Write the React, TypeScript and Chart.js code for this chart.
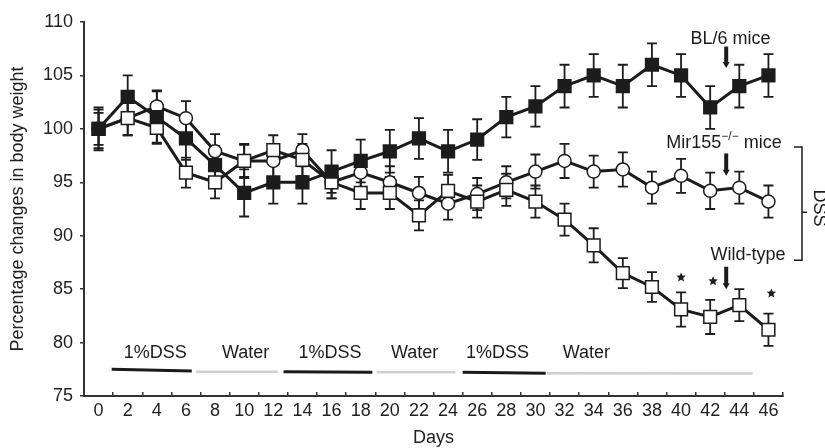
import React, { useEffect, useRef } from "react";
import { Chart, registerables } from "chart.js";

Chart.register(...registerables);

const days = ["0","2","4","6","8","10","12","14","16","18","20","22","24","26","28","30","32","34","36","38","40","42","44","46"];

const bl6 = [100, 103, 101.1, 99.1, 96.6, 94.0, 95.0, 95.0, 96.0, 97.0, 97.9, 99.1, 97.9, 99.0, 101.1, 102.1, 104.0, 105.0, 104.0, 106.0, 105.0, 102.0, 104.0, 105.0];
const bl6Err = [2, 2, 2.4, 2, 1.8, 2.2, 2, 2, 2, 2, 2, 1.9, 2, 1.9, 1.9, 1.9, 2, 2, 2, 2, 2, 2, 2, 2];

const mir155 = [100, 101, 102.1, 101, 97.9, 97, 97, 98, 95, 95.9, 95, 94, 93, 93.9, 95, 96, 97, 96, 96.2, 94.5, 95.6, 94.2, 94.5, 93.2];
const mir155Err = [1.8, 1.6, 1.5, 1.6, 1.6, 1.6, 1.5, 1.5, 1.5, 1.5, 1.5, 1.5, 1.5, 1.5, 1.5, 1.6, 1.6, 1.5, 1.6, 1.5, 1.6, 1.7, 1.5, 1.5];

const wildType = [100, 101, 100.1, 95.9, 95, 97, 98, 97.1, 95, 94, 94, 91.9, 94.2, 93.2, 94.3, 93.2, 91.5, 89.1, 86.5, 85.2, 83.1, 82.4, 83.5, 81.2];
const wildTypeErr = [1.5, 1.6, 1.5, 1.4, 1.5, 1.5, 1.4, 1.5, 1.5, 1.5, 1.5, 1.4, 1.5, 1.5, 1.5, 1.5, 1.5, 1.6, 1.4, 1.4, 1.6, 1.6, 1.5, 1.5];

const yTicks = [75, 80, 85, 90, 95, 100, 105, 110];

// treatment periods: [startDay, endDay, startValue, endValue]
const dssPeriods = [
  [0.9, 6.4, 77.5, 77.34],
  [12.7, 18.8, 77.28, 77.22],
  [25.0, 30.7, 77.22, 77.12],
];
const waterPeriods = [
  [6.7, 12.3, 77.28, 77.28],
  [19.1, 24.5, 77.22, 77.22],
  [30.8, 44.9, 77.12, 77.1],
];
const periodLabels = [
  { text: "1%DSS", day: 3.9, value: 79.0 },
  { text: "Water", day: 10.1, value: 79.0 },
  { text: "1%DSS", day: 15.9, value: 79.0 },
  { text: "Water", day: 21.7, value: 79.0 },
  { text: "1%DSS", day: 27.4, value: 79.0 },
  { text: "Water", day: 33.5, value: 79.0 },
];

const arrows = [
  { day: 43.1, from: 107.7, to: 105.7 },
  { day: 43.1, from: 97.7, to: 95.6 },
  { day: 43.1, from: 87.1, to: 85.0 },
];
const stars = [
  { day: 40.0, value: 86.1 },
  { day: 42.2, value: 85.75 },
  { day: 46.2, value: 84.6 },
];

const FONT = '"Liberation Sans", Arial, sans-serif';
const INK = "#1c1c1c";

function segDatasets(periods: number[][], color: string, width: number) {
  return periods.map((p) => ({
    type: "line" as const,
    xAxisID: "xd",
    data: [{ x: p[0], y: p[2] }, { x: p[1], y: p[3] }],
    borderColor: color,
    borderWidth: width,
    pointRadius: 0,
    fill: false,
    errors: null,
  }));
}

const errorBarPlugin = {
  id: "errorBars",
  beforeDatasetsDraw(chart: any) {
    const ctx = chart.ctx;
    const y = chart.scales.y;
    ctx.save();
    ctx.strokeStyle = INK;
    ctx.lineWidth = 1.8;
    chart.data.datasets.forEach((ds: any, i: number) => {
      if (!ds.errors) return;
      const meta = chart.getDatasetMeta(i);
      meta.data.forEach((pt: any, j: number) => {
        const v = ds.data[j];
        const e = ds.errors[j];
        const x = pt.x;
        const yt = y.getPixelForValue(v + e);
        const yb = y.getPixelForValue(v - e);
        ctx.beginPath();
        ctx.moveTo(x, yt);
        ctx.lineTo(x, yb);
        ctx.moveTo(x - 5, yt);
        ctx.lineTo(x + 5, yt);
        ctx.moveTo(x - 5, yb);
        ctx.lineTo(x + 5, yb);
        ctx.stroke();
      });
    });
    ctx.restore();
  },
};

function drawStar(ctx: CanvasRenderingContext2D, cx: number, cy: number, r: number) {
  ctx.beginPath();
  for (let k = 0; k < 10; k++) {
    const rad = k % 2 === 0 ? r : r * 0.45;
    const a = -Math.PI / 2 + (k * Math.PI) / 5;
    const px = cx + rad * Math.cos(a);
    const py = cy + rad * Math.sin(a);
    if (k === 0) ctx.moveTo(px, py);
    else ctx.lineTo(px, py);
  }
  ctx.closePath();
  ctx.fill();
}

const annotationPlugin = {
  id: "annotations",
  afterDraw(chart: any) {
    const ctx = chart.ctx;
    const xd = chart.scales.xd;
    const y = chart.scales.y;
    const area = chart.chartArea;
    ctx.save();
    ctx.fillStyle = INK;
    ctx.strokeStyle = INK;
    ctx.textBaseline = "middle";
    ctx.font = `18px ${FONT}`;

    // period labels
    ctx.textAlign = "center";
    periodLabels.forEach((l) => {
      ctx.fillText(l.text, xd.getPixelForValue(l.day), y.getPixelForValue(l.value));
    });

    // group labels
    ctx.fillText("BL/6 mice", xd.getPixelForValue(43.4), y.getPixelForValue(108.4));
    ctx.fillText("Wild-type", xd.getPixelForValue(44.6), y.getPixelForValue(88.2));

    // Mir155 label with superscript
    const mirY = y.getPixelForValue(98.7);
    ctx.font = `18px ${FONT}`;
    const w1 = ctx.measureText("Mir155").width;
    const w3 = ctx.measureText(" mice").width;
    ctx.font = `12px ${FONT}`;
    const w2 = ctx.measureText("\u2212/\u2212").width;
    const total = w1 + w2 + w3;
    let sx = xd.getPixelForValue(42.95) - total / 2;
    ctx.textAlign = "left";
    ctx.font = `18px ${FONT}`;
    ctx.fillText("Mir155", sx, mirY);
    ctx.font = `12px ${FONT}`;
    ctx.fillText("\u2212/\u2212", sx + w1, mirY - 6);
    ctx.font = `18px ${FONT}`;
    ctx.fillText(" mice", sx + w1 + w2, mirY);

    // arrows
    arrows.forEach((a) => {
      const ax = xd.getPixelForValue(a.day);
      const y1 = y.getPixelForValue(a.from);
      const y2 = y.getPixelForValue(a.to);
      ctx.lineWidth = 4;
      ctx.beginPath();
      ctx.moveTo(ax, y1);
      ctx.lineTo(ax, y2 - 5);
      ctx.stroke();
      ctx.beginPath();
      ctx.moveTo(ax - 3.5, y2 - 6);
      ctx.lineTo(ax + 3.5, y2 - 6);
      ctx.lineTo(ax, y2);
      ctx.closePath();
      ctx.fill();
    });

    // stars
    stars.forEach((s) => drawStar(ctx, xd.getPixelForValue(s.day), y.getPixelForValue(s.value), 5));

    // DSS bracket
    const bt = y.getPixelForValue(98.3);
    const bb = y.getPixelForValue(87.7);
    const bm = y.getPixelForValue(92.2);
    const bx0 = area.right + 11;
    const bx1 = area.right + 19;
    ctx.lineWidth = 1.5;
    ctx.beginPath();
    ctx.moveTo(bx0, bt);
    ctx.lineTo(bx1, bt);
    ctx.lineTo(bx1, bb);
    ctx.lineTo(bx0, bb);
    ctx.moveTo(bx1, bm);
    ctx.lineTo(bx1 + 5, bm);
    ctx.stroke();

    ctx.save();
    ctx.translate(area.right + 36, y.getPixelForValue(92.6));
    ctx.rotate(Math.PI / 2);
    ctx.textAlign = "center";
    ctx.font = `18px ${FONT}`;
    ctx.fillText("DSS", 0, 0);
    ctx.restore();

    ctx.restore();
  },
};

export default function App() {
  const ref = useRef<HTMLCanvasElement>(null);

  useEffect(() => {
    document.body.style.margin = "0";
    if (!ref.current) return;
    const chart = new Chart(ref.current, {
      type: "line",
      data: {
        labels: days,
        datasets: [
          {
            label: "BL/6 mice",
            data: bl6,
            errors: bl6Err,
            xAxisID: "x",
            borderColor: INK,
            borderWidth: 3,
            pointStyle: "rect",
            pointRadius: 9,
            pointBackgroundColor: INK,
            pointBorderColor: INK,
            pointBorderWidth: 1.5,
            fill: false,
          },
          {
            label: "Wild-type",
            data: wildType,
            errors: wildTypeErr,
            xAxisID: "x",
            borderColor: INK,
            borderWidth: 3,
            pointStyle: "rect",
            pointRadius: 9,
            pointBackgroundColor: "#ffffff",
            pointBorderColor: INK,
            pointBorderWidth: 1.5,
            fill: false,
          },
          {
            label: "Mir155-/- mice",
            data: mir155,
            errors: mir155Err,
            xAxisID: "x",
            borderColor: INK,
            borderWidth: 3,
            pointStyle: "circle",
            pointRadius: 6.5,
            pointBackgroundColor: "#ffffff",
            pointBorderColor: INK,
            pointBorderWidth: 1.5,
            fill: false,
          },
          ...segDatasets(dssPeriods, "#1a1a1a", 3),
          ...segDatasets(waterPeriods, "#cfcfcf", 2.5),
        ] as any,
      },
      options: {
        animation: false,
        responsive: false,
        devicePixelRatio: 1,
        layout: { padding: { top: 22, right: 42, left: 0, bottom: 0 } },
        plugins: { legend: { display: false }, tooltip: { enabled: false } },
        scales: {
          x: {
            type: "category",
            offset: true,
            grid: {
              offset: true,
              drawOnChartArea: false,
              drawTicks: true,
              tickLength: -4,
              color: "#333",
              lineWidth: 1.5,
            },
            border: { display: true, color: "#333", width: 2 },
            ticks: {
              color: "#222",
              font: { family: FONT, size: 18 },
              padding: 8,
              maxRotation: 0,
              autoSkip: false,
            },
            title: {
              display: true,
              text: "Days",
              color: "#222",
              font: { family: FONT, size: 18, lineHeight: 1.1 },
              padding: { top: 0, bottom: 0 },
            },
            afterFit(scale: any) {
              scale.height = 52;
            },
          },
          xd: {
            type: "linear",
            display: false,
            min: -1,
            max: 47,
          },
          y: {
            type: "linear",
            min: 75,
            max: 110,
            afterBuildTicks(scale: any) {
              scale.ticks = yTicks.map((v) => ({ value: v }));
            },
            grid: {
              drawOnChartArea: false,
              drawTicks: true,
              tickLength: 4,
              color: "#333",
              lineWidth: 1.5,
            },
            border: { display: true, color: "#333", width: 2 },
            ticks: {
              color: "#222",
              font: { family: FONT, size: 18 },
              padding: 7,
            },
            title: {
              display: true,
              text: "Percentage changes in body weight",
              color: "#222",
              font: { family: FONT, size: 18, lineHeight: 1.2 },
              padding: { top: 7, bottom: 0 },
            },
            afterFit(scale: any) {
              scale.width = 84;
            },
          },
        },
      } as any,
      plugins: [errorBarPlugin, annotationPlugin],
    });
    return () => chart.destroy();
  }, []);

  return (
    <div style={{ width: 825, height: 448 }}>
      <canvas ref={ref} width={825} height={448} style={{ display: "block" }} />
    </div>
  );
}
